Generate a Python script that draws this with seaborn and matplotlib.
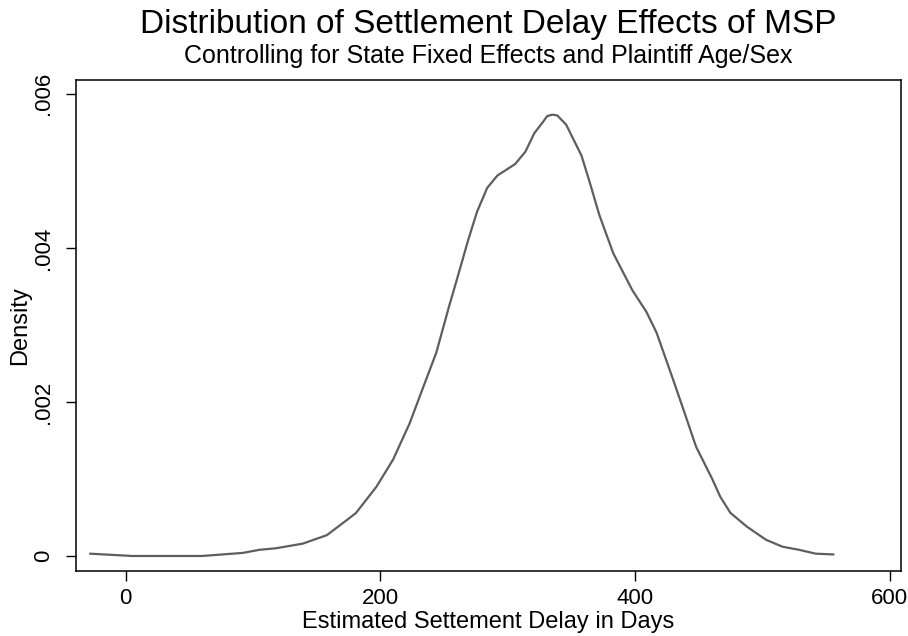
import pandas as pd
import seaborn as sns
import matplotlib.pyplot as plt

# density curve
delay_days = [-28, 5, 60, 92, 105, 118, 139, 158, 174, 181, 197, 210, 223, 233,
              244, 254, 260, 269, 276, 284, 292, 306, 314, 321, 328, 331, 335,
              339, 346, 358, 364, 372, 383, 398, 409, 417, 430, 440, 448, 461,
              467, 475, 488, 503, 516, 529, 542, 556]
density = [0.00003, 0.0, 0.0, 0.00004, 0.00008, 0.0001, 0.00016, 0.00027,
           0.00047, 0.00056, 0.0009, 0.00125, 0.00172, 0.00216, 0.00264,
           0.00324, 0.00358, 0.0041, 0.00447, 0.00478, 0.00494, 0.00509,
           0.00525, 0.00549, 0.00564, 0.00571, 0.00573, 0.00572, 0.0056,
           0.0052, 0.00488, 0.00443, 0.00393, 0.00345, 0.00317, 0.0029,
           0.00229, 0.00181, 0.00142, 0.00099, 0.00077, 0.00056, 0.00038,
           0.00021, 0.00012, 0.00008, 0.00003, 0.00002]

x_ticks = [0, 200, 400, 600]
y_ticks = [0, 0.002, 0.004, 0.006]
y_tick_labels = ['0', '.002', '.004', '.006']

sns.set_style('white')
plt.rcParams['font.family'] = ['Liberation Sans', 'DejaVu Sans']
plt.rcParams['text.color'] = 'black'
plt.rcParams['axes.labelcolor'] = 'black'
plt.rcParams['xtick.color'] = 'black'
plt.rcParams['ytick.color'] = 'black'

df = pd.DataFrame({'delay': delay_days, 'density': density})

fig = plt.figure(figsize=(9.08, 6.36), dpi=100)
ax = fig.add_axes([0.0837, 0.1022, 0.9086, 0.772])

sns.lineplot(data=df, x='delay', y='density', ax=ax, color='#5e5e5e', linewidth=1.6)

ax.set_xlim(-39, 609)
ax.set_ylim(-0.000195, 0.00618)
ax.set_xticks(x_ticks)
ax.set_xticklabels([str(t) for t in x_ticks], fontsize=16)
ax.set_yticks(y_ticks)
ax.set_yticklabels(y_tick_labels, fontsize=16, rotation=90, va='center')
ax.tick_params(axis='x', direction='out', length=7, width=1, pad=5)
ax.tick_params(axis='y', direction='out', length=7, width=1, pad=9)
ax.tick_params(axis='both', which='both', bottom=True, left=True)
for s in ax.spines.values():
    s.set_color('black')
    s.set_linewidth(1.1)

ax.set_xlabel('Estimated Settement Delay in Days', fontsize=17, labelpad=2)
ax.set_ylabel('Density', fontsize=17, labelpad=1)

fig.text(0.538, 0.962, 'Distribution of Settlement Delay Effects of MSP',
         ha='center', va='center', fontsize=24)
fig.text(0.538, 0.912, 'Controlling for State Fixed Effects and Plaintiff Age/Sex',
         ha='center', va='center', fontsize=18)

plt.savefig('out.png', dpi=100)
